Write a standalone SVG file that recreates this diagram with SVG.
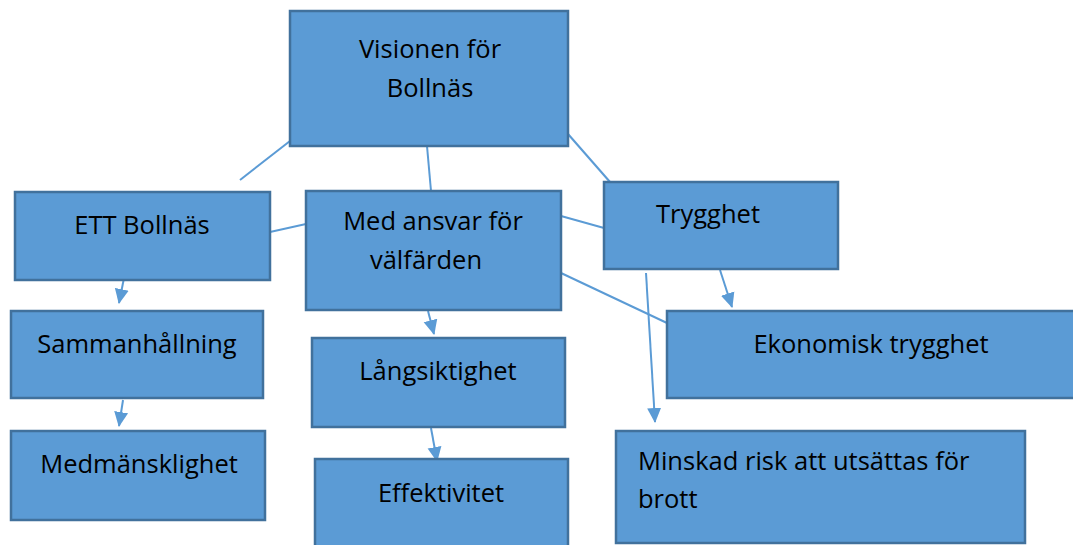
<svg xmlns="http://www.w3.org/2000/svg" width="1073" height="545" viewBox="0 0 1073 545">
<style>
.box{fill:#5B9BD5;stroke:#41719C;stroke-width:2.5}
.t{font-family:"Open Sans","Liberation Sans",sans-serif;font-size:25.5px;fill:#000;text-anchor:middle}
.tl{text-anchor:start}
.c{stroke:#5B9BD5;stroke-width:2;fill:none}
.a{marker-end:url(#ah)}
</style>
<defs>
<marker id="ah" markerUnits="userSpaceOnUse" markerWidth="16" markerHeight="16" viewBox="0 0 16 16" refX="14" refY="8" orient="auto">
<path d="M0,1 L15,8 L0,15 Z" fill="#5B9BD5"/>
</marker>
</defs>
<rect width="1073" height="545" fill="#fff"/>
<g id="connectors">
<line class="c" x1="290" y1="141" x2="240" y2="180"/>
<line class="c" x1="427" y1="146" x2="431" y2="191"/>
<line class="c" x1="568" y1="134" x2="610" y2="182"/>
<line class="c" x1="270" y1="232" x2="306" y2="224"/>
<line class="c" x1="561" y1="216" x2="604" y2="228"/>
<line class="c" x1="561" y1="273" x2="667" y2="323"/>
<line class="c a" x1="124" y1="278" x2="119" y2="303"/>
<line class="c a" x1="123" y1="400" x2="119" y2="426"/>
<line class="c a" x1="428" y1="311" x2="434" y2="334"/>
<line class="c a" x1="431" y1="428" x2="437" y2="461"/>
<line class="c a" x1="720" y1="270" x2="732" y2="307"/>
<line class="c a" x1="646" y1="273" x2="655" y2="422"/>
</g>
<g id="visionen"><rect class="box" x="290" y="11" width="278" height="135"/><text class="t" x="430" y="58">Visionen för</text><text class="t" x="430" y="97">Bollnäs</text></g>
<g id="ett"><rect class="box" x="15" y="192" width="255" height="88"/><text class="t" x="142" y="234">ETT Bollnäs</text></g>
<g id="medansvar"><rect class="box" x="306" y="191" width="255" height="119"/><text class="t" x="433" y="230">Med ansvar för</text><text class="t" x="426" y="269">välfärden</text></g>
<g id="trygghet"><rect class="box" x="604" y="182" width="234" height="87"/><text class="t" x="708" y="223">Trygghet</text></g>
<g id="sammanhallning"><rect class="box" x="11" y="311" width="252" height="87"/><text class="t" x="137" y="353">Sammanhållning</text></g>
<g id="medmansklighet"><rect class="box" x="11" y="431" width="254" height="89"/><text class="t" x="139" y="473">Medmänsklighet</text></g>
<g id="langsiktighet"><rect class="box" x="312" y="338" width="253" height="89"/><text class="t" x="438" y="380">Långsiktighet</text></g>
<g id="effektivitet"><rect class="box" x="315" y="459" width="253" height="95"/><text class="t" x="441" y="502">Effektivitet</text></g>
<g id="ekonomisk"><rect class="box" x="667" y="311" width="415" height="87"/><text class="t" x="871" y="353">Ekonomisk trygghet</text></g>
<g id="minskad"><rect class="box" x="616" y="431" width="409" height="112"/><text class="t tl" x="638" y="470">Minskad risk att utsättas för</text><text class="t tl" x="638" y="508">brott</text></g>
</svg>
